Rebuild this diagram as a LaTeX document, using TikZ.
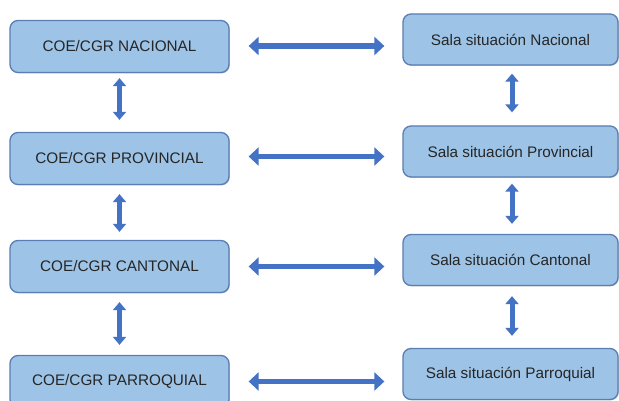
\documentclass[tikz,border=0pt]{standalone}
\usepackage{fontspec}
\setmainfont{Liberation Sans}
\usetikzlibrary{arrows.meta,shadows}
\definecolor{boxfill}{HTML}{9DC3E6}
\definecolor{boxline}{HTML}{5A7DB3}
\definecolor{arrowblue}{HTML}{4472C4}
\tikzset{
  lvl/.style={draw=boxline, line width=1.3pt, fill=boxfill, rounded corners=8pt,
    minimum height=52pt, inner sep=0pt, text=black!85, font=\fontsize{15.3}{18}\selectfont,
    drop shadow={shadow xshift=0.8pt, shadow yshift=-0.8pt, opacity=0.35, fill=black!60}},
  lbox/.style={lvl, minimum width=219pt},
  rbox/.style={lvl, minimum width=215pt, minimum height=51pt},
  harrow/.style={draw=arrowblue, line width=5.5pt, {Triangle[width=18pt,length=10pt]}-{Triangle[width=18pt,length=10pt]}},
  varrow/.style={draw=arrowblue, line width=5pt, {Triangle[width=13pt,length=8pt]}-{Triangle[width=13pt,length=8pt]}}
}
\begin{document}
\begin{tikzpicture}[x=1pt,y=-1pt]
\useasboundingbox[fill=white] (0,0) rectangle (619,401);
\node[lbox] (L1) at (119.5,46.5) {COE/CGR NACIONAL};
\node[lbox] (L2) at (119.5,158.5) {COE/CGR PROVINCIAL};
\node[lbox] (L3) at (119.5,266.5) {COE/CGR CANTONAL};
\node[lbox] (L4) at (119.5,381.5) {COE/CGR PARROQUIAL};
\node[rbox] (R1) at (510.5,39.5) {Sala situación Nacional};
\node[rbox] (R2) at (510.5,151.5) {Sala situación Provincial};
\node[rbox] (R3) at (510.5,260) {Sala situación Cantonal};
\node[rbox] (R4) at (510.5,374) {Sala situación Parroquial};
% horizontal arrows
\draw[harrow] ([xshift=19pt,yshift=0.5pt]L1.east) -- ([xshift=-18pt,yshift=0.5pt]L1.east -| R1.west);
\draw[harrow] ([xshift=19pt,yshift=2pt]L2.east) -- ([xshift=-18pt,yshift=2pt]L2.east -| R2.west);
\draw[harrow] ([xshift=19pt]L3.east) -- ([xshift=-18pt]L3.east -| R3.west);
\draw[harrow] ([xshift=19pt]L4.east) -- ([xshift=-18pt]L4.east -| R4.west);
% left vertical arrows
\draw[varrow] ([yshift=-5pt]L1.south) -- ([yshift=12pt]L2.north);
\draw[varrow] ([yshift=-9pt]L2.south) -- ([yshift=8pt]L3.north);
\draw[varrow] ([yshift=-9pt]L3.south) -- ([yshift=10pt]L4.north);
% right vertical arrows
\draw[varrow] ([xshift=1.5pt,yshift=-8pt]R1.south) -- ([xshift=1.5pt,yshift=13pt]R2.north);
\draw[varrow] ([xshift=1.5pt,yshift=-6pt]R2.south) -- ([xshift=1.5pt,yshift=10pt]R3.north);
\draw[varrow] ([xshift=1.5pt,yshift=-10pt]R3.south) -- ([xshift=1.5pt,yshift=12pt]R4.north);
\end{tikzpicture}
\end{document}
